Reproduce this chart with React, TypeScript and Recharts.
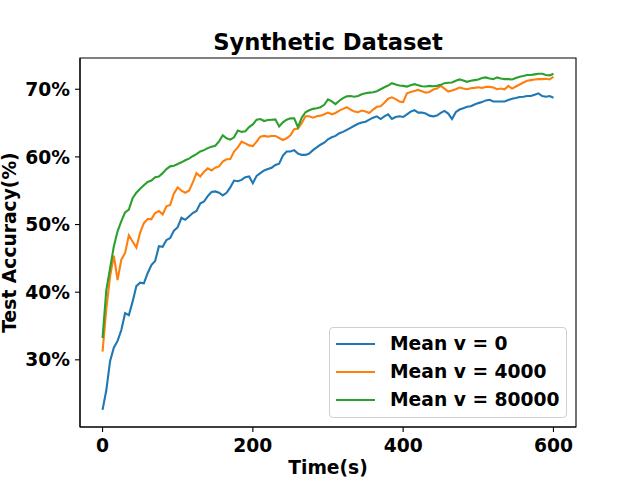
import { Line, LineChart, ReferenceArea, XAxis, YAxis } from 'recharts';

// time grid, one sample every 5 s
const times = Array.from({ length: 121 }, (_, i) => i * 5);

const meanV0 = [
	22.6, 25.5, 29.8, 31.8, 32.8, 34.4, 36.9, 36.6, 38.6, 40.9,
	41.4, 41.3, 42.8, 44.0, 44.6, 46.8, 46.7, 47.7, 48.0, 49.1,
	49.6, 51.0, 50.7, 51.2, 51.7, 52.0, 53.1, 53.4, 54.2, 54.8,
	54.9, 54.7, 54.3, 54.7, 55.5, 56.5, 56.4, 56.6, 57.0, 57.1,
	56.1, 57.2, 57.6, 58.0, 58.2, 58.4, 58.8, 59.0, 60.2, 60.8,
	60.8, 61.0, 60.5, 60.3, 60.3, 60.5, 61.0, 61.4, 61.8, 62.1,
	62.6, 62.9, 63.1, 63.5, 63.7, 64.0, 64.3, 64.6, 64.9, 65.1,
	65.2, 65.5, 65.8, 66.0, 65.6, 66.0, 66.3, 65.6, 65.9, 66.0,
	65.9, 66.3, 66.7, 66.9, 66.55, 66.55, 66.4, 66.1, 66.0, 66.1,
	66.5, 66.8, 66.4, 65.6, 66.6, 67.0, 67.2, 67.4, 67.5, 67.75,
	67.95, 68.1, 68.35, 68.45, 68.2, 68.2, 68.2, 68.2, 68.4, 68.6,
	68.7, 68.85, 68.9, 69.0, 69.0, 69.2, 69.4, 69.0, 68.9, 69.0,
	68.75,
];

const meanV4000 = [
	31.2, 37.5, 42.3, 45.4, 41.8, 44.8, 45.8, 48.4, 47.5, 46.6,
	48.8, 50.2, 50.8, 50.8, 51.7, 52.0, 51.5, 52.7, 52.9, 54.6,
	55.5, 55.0, 54.7, 55.0, 56.2, 57.6, 57.1, 57.8, 58.3, 58.0,
	58.4, 58.6, 59.3, 59.65, 59.7, 60.8, 61.4, 62.25, 62.0, 61.7,
	61.6, 62.25, 63.0, 63.1, 63.0, 63.1, 63.1, 62.8, 62.5, 62.75,
	63.2, 64.1, 64.2, 65.0, 66.0, 66.0, 65.8, 66.0, 66.1, 66.3,
	66.55, 66.3, 66.5, 66.85, 67.1, 67.35, 67.0, 66.7, 66.6, 66.85,
	66.7, 66.5, 67.0, 67.4, 67.5, 68.0, 68.6, 68.8, 68.55, 68.2,
	68.1, 69.4, 69.6, 69.75, 69.9, 69.7, 69.5, 69.6, 69.95, 70.1,
	70.5, 70.1, 69.65, 69.8, 70.0, 70.25, 70.1, 70.0, 70.15, 70.2,
	70.3, 70.2, 70.35, 70.35, 70.25, 70.0, 70.1, 70.0, 70.5, 70.1,
	70.4, 70.7, 71.0, 71.25, 71.35, 71.45, 71.5, 71.5, 71.55, 71.45,
	71.85,
];

const meanV80000 = [
	33.2, 40.3, 43.5, 46.75, 49.0, 50.5, 51.8, 52.2, 53.9, 54.7,
	55.3, 55.8, 56.3, 56.5, 57.0, 57.1, 57.6, 58.2, 58.6, 58.7,
	58.95, 59.2, 59.5, 59.75, 60.1, 60.4, 60.8, 61.0, 61.3, 61.5,
	61.65, 62.3, 63.2, 62.75, 62.55, 62.9, 63.9, 63.7, 63.8, 64.4,
	64.8, 65.5, 65.6, 65.3, 65.45, 65.5, 65.55, 64.5, 65.1, 65.5,
	65.7, 65.7, 64.4, 65.8, 66.6, 66.9, 67.1, 67.2, 67.35, 67.7,
	68.5, 68.2, 67.8, 68.3, 68.7, 68.95, 69.0, 68.9, 69.0, 69.25,
	69.4, 69.5, 69.55, 69.7, 70.0, 70.3, 70.55, 70.9, 70.7, 70.55,
	70.5, 70.4, 70.6, 70.75, 70.6, 70.45, 70.4, 70.5, 70.45, 70.5,
	70.65, 70.9, 70.95, 71.0, 71.25, 71.45, 71.3, 71.1, 71.25, 71.35,
	71.45, 71.65, 71.75, 71.6, 71.5, 71.75, 71.6, 71.5, 71.5, 71.45,
	71.65, 71.85, 71.95, 72.1, 72.1, 72.2, 72.3, 72.3, 72.1, 72.05,
	72.3,
];

const xTicks = [0, 200, 400, 600];
const yTicks = [30, 40, 50, 60, 70];
const xDomain = [-30, 630];
const yDomain = [20.07, 74.62];

const series = [
	{ key: 'v0', name: 'Mean v = 0', color: '#1f77b4', values: meanV0 },
	{ key: 'v4000', name: 'Mean v = 4000', color: '#ff7f0e', values: meanV4000 },
	{ key: 'v80000', name: 'Mean v = 80000', color: '#2ca02c', values: meanV80000 },
];

const data = times.map((t, i) => {
	const row: Record<string, number> = { t };
	series.forEach((s) => {
		row[s.key] = s.values[i];
	});
	return row;
});

const FONT = '"DejaVu Sans", sans-serif';
const FS = 18.7;
const tickStyle = { fill: '#000', fontSize: FS, fontWeight: 700, fontFamily: FONT };

export default function App() {
	return (
		<div style={{ position: 'absolute', left: 0, top: 0, width: 640, height: 480, background: '#fff' }}>
			<LineChart
				width={640}
				height={480}
				data={data}
				margin={{ top: 58, right: 64, bottom: 0, left: 0 }}
			>
				<XAxis
					dataKey="t"
					type="number"
					domain={xDomain}
					ticks={xTicks}
					interval={0}
					height={53}
					tickSize={5}
					tickMargin={7}
					tick={tickStyle}
					axisLine={{ stroke: '#000', strokeWidth: 1.1 }}
					tickLine={{ stroke: '#000', strokeWidth: 1.1 }}
				/>
				<YAxis
					type="number"
					domain={yDomain}
					allowDataOverflow
					ticks={yTicks}
					interval={0}
					width={80}
					tickSize={5}
					tickMargin={5}
					tick={tickStyle}
					tickFormatter={(v: number) => `${v}%`}
					axisLine={{ stroke: '#000', strokeWidth: 1.1 }}
					tickLine={{ stroke: '#000', strokeWidth: 1.1 }}
				/>
				{series.map((s) => (
					<Line
						key={s.key}
						type="linear"
						dataKey={s.key}
						name={s.name}
						stroke={s.color}
						strokeWidth={2.1}
						dot={false}
						activeDot={false}
						isAnimationActive={false}
					/>
				))}
				<ReferenceArea
					x1={xDomain[0]}
					x2={xDomain[1]}
					y1={yDomain[0]}
					y2={yDomain[1]}
					fill="none"
					fillOpacity={0}
					stroke="#000"
					strokeWidth={1.1}
					ifOverflow="visible"
				/>
				<text
					x={328}
					y={49.7}
					textAnchor="middle"
					style={{ fontSize: 22.7, fontWeight: 700, fontFamily: FONT, fill: '#000' }}
				>
					Synthetic Dataset
				</text>
				<text
					x={328}
					y={474}
					textAnchor="middle"
					style={{ fontSize: FS, fontWeight: 700, fontFamily: FONT, fill: '#000' }}
				>
					Time(s)
				</text>
				<text
					x={16}
					y={242.5}
					textAnchor="middle"
					transform="rotate(-90 16 242.5)"
					style={{ fontSize: FS, fontWeight: 700, fontFamily: FONT, fill: '#000' }}
				>
					Test Accuracy(%)
				</text>
			</LineChart>
			<div
				style={{
					position: 'absolute',
					left: 329,
					top: 327,
					width: 238,
					height: 91,
					boxSizing: 'border-box',
					border: '1px solid #d0d0d0',
					borderRadius: 4,
					background: 'rgba(255,255,255,0.8)',
					fontFamily: FONT,
					fontWeight: 700,
					fontSize: FS,
				}}
			>
				{series.map((s, i) => (
					<div
						key={s.key}
						style={{
							position: 'absolute',
							left: 0,
							top: 15.7 + 28.3 * i - 14,
							height: 28,
							display: 'flex',
							alignItems: 'center',
							whiteSpace: 'nowrap',
						}}
					>
						<div style={{ marginLeft: 6, width: 39, height: 2.1, background: s.color }} />
						<span style={{ marginLeft: 15, lineHeight: '28px' }}>{s.name}</span>
					</div>
				))}
			</div>
		</div>
	);
}
